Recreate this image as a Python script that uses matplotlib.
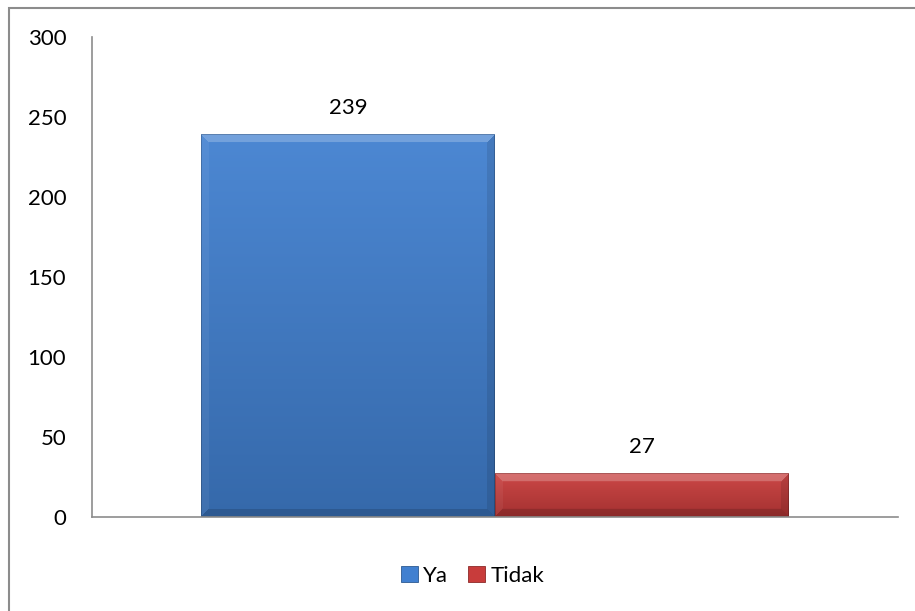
import numpy as np
import matplotlib
matplotlib.use("Agg")
import matplotlib.pyplot as plt
from matplotlib.patches import Rectangle, Patch
from matplotlib.colors import to_rgb

# ---- data ----
series = ["Ya", "Tidak"]
values = [239, 27]
yticks = [0, 50, 100, 150, 200, 250, 300]
colors = ["#4180D0", "#C83C3B"]

plt.rcParams['font.family'] = ['Lato', 'DejaVu Sans']
FS = 16

W, H = 915, 611
fig = plt.figure(figsize=(W / 100, H / 100), dpi=100)
ax = fig.add_axes([92 / W, 1 - 517 / H, (898 - 92) / W, (517 - 37) / H])

bw = 294 / 806
offsets = [-bw / 2, bw / 2]
bars = []
for s, v, c, o in zip(series, values, colors, offsets):
    b = ax.bar(o, v, width=bw, color=c, label=s, zorder=2)
    bars.append(b[0])

ax.set_xlim(-0.5, 0.5)
ax.set_ylim(0, 300)
ax.set_yticks(yticks)
ax.set_xticks([])
for sp in ["top", "right"]:
    ax.spines[sp].set_visible(False)
for sp in ["left", "bottom"]:
    ax.spines[sp].set_color("#8c8c8c")
    ax.spines[sp].set_linewidth(1.2)
ax.tick_params(axis="y", length=0, pad=18.5, labelsize=FS)


def shade(rgb, f):
    rgb = np.asarray(rgb)
    if f >= 0:
        return rgb + (1 - rgb) * f
    return rgb * (1 + f)


# gradient + bevel fill for each bar
fig.canvas.draw()
for bar, c in zip(bars, colors):
    x0, y0 = bar.get_x(), bar.get_y()
    x1, y1 = x0 + bar.get_width(), y0 + bar.get_height()
    p0 = ax.transData.transform((x0, y0))
    p1 = ax.transData.transform((x1, y1))
    pw = max(int(round(p1[0] - p0[0])), 2)
    ph = max(int(round(p1[1] - p0[1])), 2)
    base = np.array(to_rgb(c))
    top_c = shade(base, 0.06)
    bot_c = shade(base, -0.18)
    t = np.linspace(0, 1, ph)[:, None, None]
    img = top_c[None, None, :] * (1 - t) + bot_c[None, None, :] * t
    img = np.repeat(img, pw, axis=1)
    ii, jj = np.mgrid[0:ph, 0:pw]
    dt, db, dl, dr = ii, ph - 1 - ii, jj, pw - 1 - jj
    d = np.stack([dt, db, dl, dr])
    m = d.min(axis=0)
    which = d.argmin(axis=0)
    bev = 8
    facs = [0.22, -0.15, 0.05, -0.1]
    for k, f in enumerate(facs):
        mask = (m < bev) & (which == k)
        img[mask] = shade(img[mask], f)
    edge = m < 1
    img[edge] = shade(img[edge], -0.2)
    img = np.clip(img, 0, 1)
    bar.set_visible(False)
    ax.imshow(img, extent=(x0, x1, y0, y1), aspect="auto", zorder=2, interpolation="bilinear")
    ax.annotate(f"{int(round(bar.get_height()))}", (bar.get_x() + bar.get_width() / 2, y1),
                xytext=(0, 19.5), textcoords="offset points", ha="center", va="center",
                fontsize=FS, color="black")

ax.set_xlim(-0.5, 0.5)
ax.set_ylim(0, 300)

# legend
handles = [Patch(facecolor=c, edgecolor=shade(to_rgb(c), -0.3), linewidth=0.6, label=s)
           for s, c in zip(series, colors)]
fig.legend(handles=handles, loc="center", bbox_to_anchor=(472.5 / W, 1 - 576 / H), ncol=2,
           frameon=False, fontsize=FS, handlelength=0.75, handleheight=0.75,
           handletextpad=0.25, columnspacing=0.9)

# chart area border (top and left visible)
fig.patches.append(Rectangle((9 / W, -0.1), 1.2, 1.1 - 8 / H, transform=fig.transFigure,
                             fill=False, edgecolor="#8c8c8c", linewidth=1.5, zorder=0))

fig.savefig("out.png", dpi=100)
